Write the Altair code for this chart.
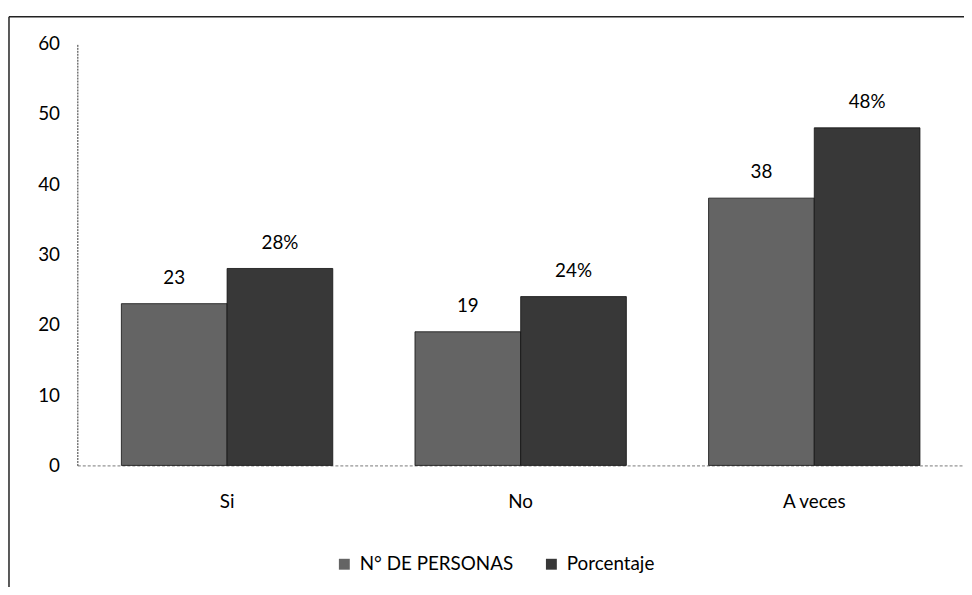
import altair as alt
import pandas as pd

categories = ["Si", "No", "A veces"]
series = ["N° DE PERSONAS", "Porcentaje"]
personas = [23, 19, 38]
porcentaje = [28, 24, 48]
personas_labels = ["23", "19", "38"]
porcentaje_labels = ["28%", "24%", "48%"]

rows = []
for i, c in enumerate(categories):
    rows.append({"cat": c, "serie": series[0], "valor": personas[i], "label": personas_labels[i]})
    rows.append({"cat": c, "serie": series[1], "valor": porcentaje[i], "label": porcentaje_labels[i]})
df = pd.DataFrame(rows)

FONT = "Lato"

x = alt.X("cat:N", sort=categories,
          scale=alt.Scale(paddingInner=0.28, paddingOuter=0.15),
          axis=alt.Axis(title=None, labelAngle=0, labelFontSize=19, labelFont=FONT,
                        labelColor="#000", labelPadding=27, ticks=False,
                        domainColor="#777", domainDash=[3, 2], domainWidth=1))
xo = alt.XOffset("serie:N", sort=series)
y = alt.Y("valor:Q", scale=alt.Scale(domain=[0, 60], nice=False),
          axis=alt.Axis(title=None, values=[0, 10, 20, 30, 40, 50, 60], grid=False,
                        ticks=False, labelFontSize=19, labelFont=FONT, labelColor="#000",
                        labelPadding=18, domainColor="#333", domainWidth=1,
                        domainDash=[2, 1]))

color = alt.Color("serie:N", sort=series,
                  scale=alt.Scale(domain=series, range=["#646464", "#383838"]),
                  legend=alt.Legend(title=None, orient="none", direction="horizontal",
                                    legendX=260, legendY=516, symbolType="square",
                                    symbolSize=121, labelFontSize=19, labelFont=FONT,
                                    labelColor="#000", columnPadding=28, labelOffset=6,
                                    symbolStrokeWidth=0))

bars = alt.Chart(df).mark_bar(stroke="#111", strokeWidth=0.8).encode(x=x, xOffset=xo, y=y, color=color)

text = alt.Chart(df).mark_text(fontSize=19, font=FONT, color="#000", baseline="middle", dy=-26).encode(
    x=alt.X("cat:N", sort=categories), xOffset=xo, y="valor:Q", text="label:N")

frame_df = pd.DataFrame({"k": [0]})
left_line = alt.Chart(frame_df).mark_rule(color="#222", strokeWidth=1.5).encode(
    x=alt.value(-69), y=alt.value(-27), y2=alt.value(560))
top_line = alt.Chart(frame_df).mark_rule(color="#222", strokeWidth=1.5).encode(
    x=alt.value(-69), x2=alt.value(900), y=alt.value(-27))

chart = alt.layer(bars, text, left_line, top_line).properties(
    width=895, height=426,
    autosize=alt.AutoSizeParams(type="none"),
    padding={"left": 70, "top": 33, "right": 0, "bottom": 120},
).configure(background="white").configure_view(strokeWidth=0, stroke="transparent")

chart.save("out.html", embed_options={"renderer": "svg", "actions": False})
